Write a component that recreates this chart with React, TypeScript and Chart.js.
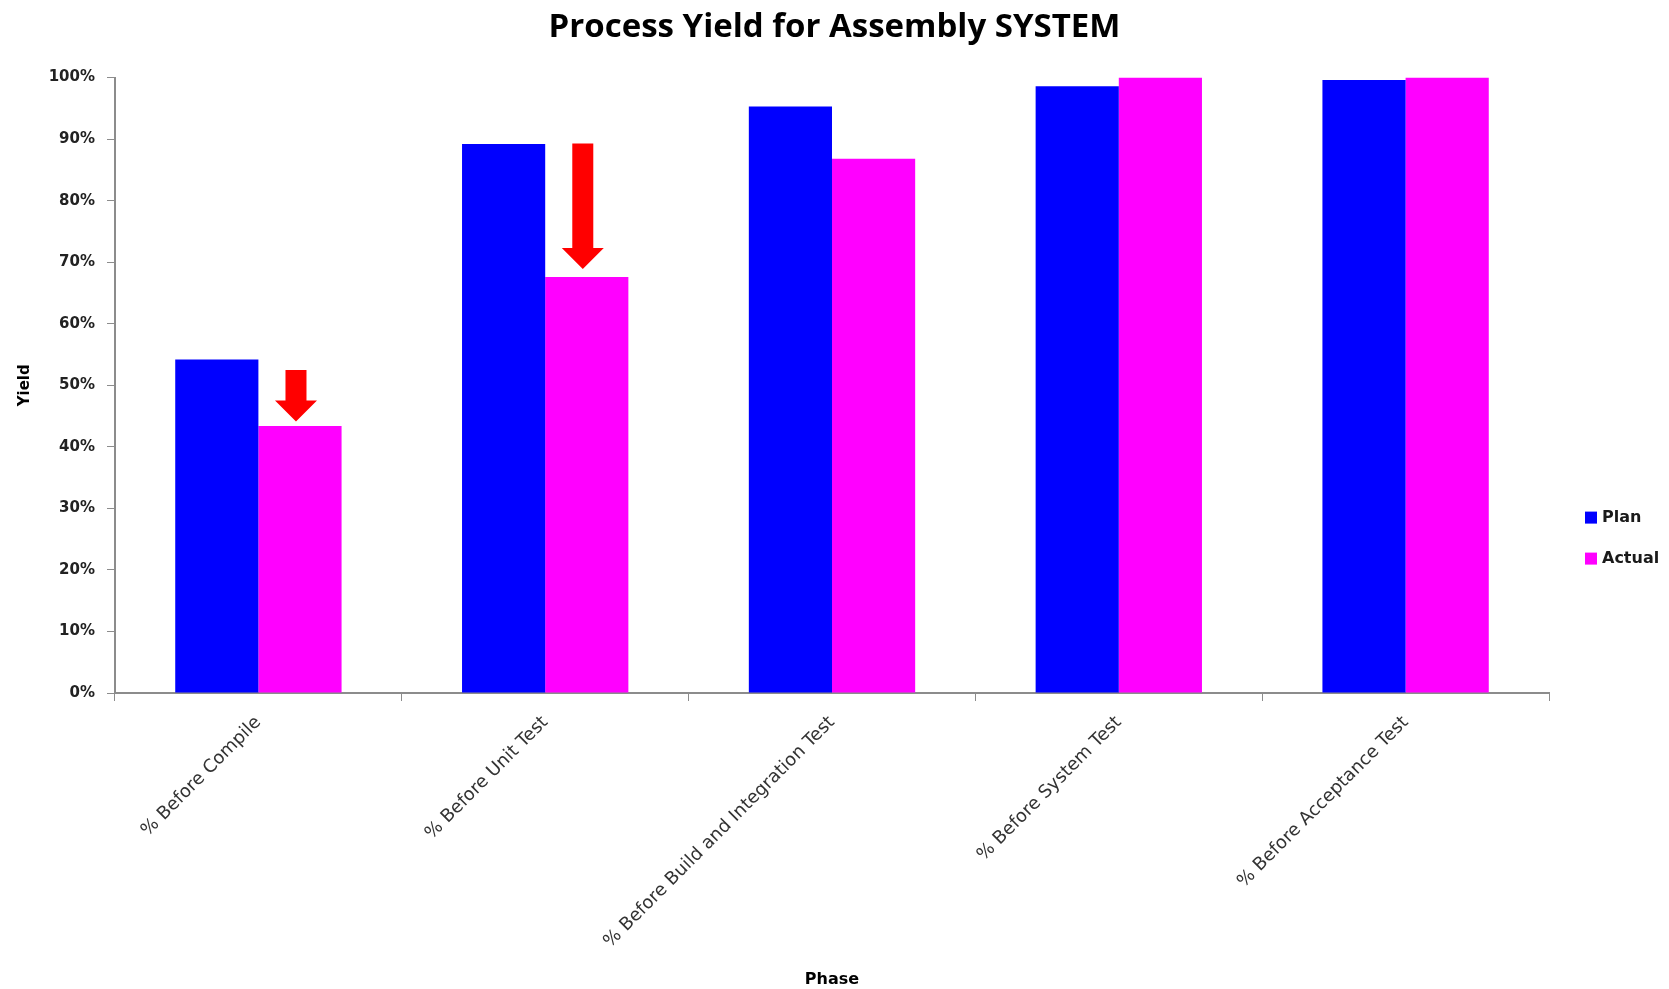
import React, { useEffect, useRef } from "react";
import { Chart, registerables } from "chart.js";

Chart.register(...registerables);

const categories = [
  "% Before Compile",
  "% Before Unit Test",
  "% Before Build and Integration Test",
  "% Before System Test",
  "% Before Acceptance Test",
];
const planValues = [54.2, 89.2, 95.3, 98.6, 99.6];
const actualValues = [43.4, 67.6, 86.8, 100, 100];
const yTicks = [0, 10, 20, 30, 40, 50, 60, 70, 80, 90, 100];
// arrows: category index, shaft top value, tip value
const arrowCategories = [0, 1];
const arrowTops = [52.5, 89.3];
const arrowTips = [44.1, 68.9];

const PLAN_COLOR = "#0000FF";
const ACTUAL_COLOR = "#FF00FF";
const AXIS_COLOR = "#8c8c8c";

const arrowPlugin = {
  id: "downArrows",
  afterDatasetsDraw(chart: any) {
    const ctx = chart.ctx;
    const y = chart.scales.y;
    const meta = chart.getDatasetMeta(1);
    ctx.save();
    ctx.fillStyle = "#FF0000";
    arrowCategories.forEach((ci, k) => {
      const bar = meta.data[ci];
      const cx = bar.x - 4;
      const top = y.getPixelForValue(arrowTops[k]);
      const tip = y.getPixelForValue(arrowTips[k]);
      const headLen = 21;
      const shaftHalf = 10.5;
      const headHalf = 21;
      ctx.beginPath();
      ctx.moveTo(cx - shaftHalf, top);
      ctx.lineTo(cx + shaftHalf, top);
      ctx.lineTo(cx + shaftHalf, tip - headLen);
      ctx.lineTo(cx + headHalf, tip - headLen);
      ctx.lineTo(cx, tip);
      ctx.lineTo(cx - headHalf, tip - headLen);
      ctx.lineTo(cx - shaftHalf, tip - headLen);
      ctx.closePath();
      ctx.fill();
    });
    ctx.restore();
  },
};

const legendPlugin = {
  id: "sideLegend",
  afterDraw(chart: any) {
    const ctx = chart.ctx;
    const area = chart.chartArea;
    const x0 = area.right + 36;
    const rows = [area.top + 440, area.top + 481];
    ctx.save();
    ctx.font = "bold 16px 'DejaVu Sans'";
    ctx.textBaseline = "middle";
    chart.data.datasets.forEach((ds: any, i: number) => {
      const cy = rows[i];
      ctx.fillStyle = ds.backgroundColor;
      ctx.fillRect(x0, cy - 6, 12, 12);
      ctx.fillStyle = "#1a1a1a";
      ctx.fillText(ds.label, x0 + 17, cy);
    });
    ctx.restore();
  },
};

export default function App() {
  const ref = useRef<HTMLCanvasElement | null>(null);

  useEffect(() => {
    if (!ref.current) return;
    const chart = new Chart(ref.current, {
      type: "bar",
      data: {
        labels: categories,
        datasets: [
          {
            label: "Plan",
            data: planValues,
            backgroundColor: PLAN_COLOR,
            categoryPercentage: 0.58,
            barPercentage: 1,
          },
          {
            label: "Actual",
            data: actualValues,
            backgroundColor: ACTUAL_COLOR,
            categoryPercentage: 0.58,
            barPercentage: 1,
          },
        ],
      },
      options: {
        animation: false,
        responsive: true,
        maintainAspectRatio: false,
        layout: { padding: 0 },
        plugins: {
          legend: { display: false },
          tooltip: { enabled: false },
          title: {
            display: true,
            text: "Process Yield for Assembly SYSTEM",
            color: "#000",
            font: { family: "Open Sans", size: 33, weight: "bold", lineHeight: 1.2 },
            padding: { top: 8, bottom: 30 },
          },
        },
        scales: {
          x: {
            afterFit: (s: any) => {
              s.height = 296;
            },
            grid: {
              display: true,
              drawOnChartArea: false,
              drawTicks: true,
              tickLength: 8,
              offset: true,
              color: AXIS_COLOR,
              lineWidth: 1,
            },
            border: { display: true, color: AXIS_COLOR, width: 2 },
            ticks: {
              autoSkip: false,
              minRotation: 45,
              maxRotation: 45,
              padding: 11,
              color: "#333",
              font: { family: "DejaVu Sans", size: 18 },
            },
            title: {
              display: true,
              text: "Phase",
              color: "#000",
              font: { family: "DejaVu Sans", size: 16, weight: "bold", lineHeight: 1.2 },
              padding: { top: 0, bottom: 0 },
            },
          },
          y: {
            min: 0,
            max: 100,
            afterFit: (s: any) => {
              s.width = 115;
            },
            afterBuildTicks: (s: any) => {
              s.ticks = yTicks.map((v) => ({ value: v }));
            },
            grid: {
              display: true,
              drawOnChartArea: false,
              drawTicks: true,
              tickLength: 8,
              color: AXIS_COLOR,
            },
            border: { display: true, color: AXIS_COLOR, width: 2 },
            ticks: {
              stepSize: 10,
              padding: 12,
              color: "#222",
              font: { family: "DejaVu Sans", size: 15, weight: "bold" },
              callback: (v: any) => `${v}%`,
            },
            title: {
              display: true,
              text: "Yield",
              color: "#000",
              font: { family: "DejaVu Sans", size: 15, weight: "bold", lineHeight: 1.2 },
              padding: { top: 16, bottom: 0 },
            },
          },
          legendSpace: {
            axis: "y",
            position: "right",
            display: true,
            afterFit: (s: any) => {
              s.width = 120;
            },
            grid: { display: false, drawTicks: false },
            border: { display: false },
            ticks: { display: false },
          },
        },
      },
      plugins: [arrowPlugin, legendPlugin],
    });
    return () => chart.destroy();
  }, []);

  return (
    <div style={{ position: "absolute", left: 0, top: 0, width: 1669, height: 989, background: "#fff" }}>
      <canvas ref={ref} />
    </div>
  );
}
